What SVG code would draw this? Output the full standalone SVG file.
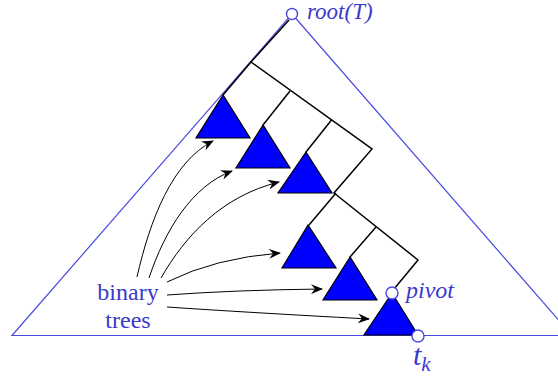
<svg xmlns="http://www.w3.org/2000/svg" width="558" height="376" viewBox="0 0 558 376">
<style>
.tri{fill:#0000ff;stroke:#000;stroke-width:1.2;stroke-linejoin:miter}
.edge{fill:none;stroke:#000;stroke-width:1.5}
.arr{fill:none;stroke:#000;stroke-width:1;marker-end:url(#ah)}
.big{fill:none;stroke:#4a4ade;stroke-width:1.2}
.node{fill:#fff;stroke:#4a4ade;stroke-width:1.4}
.lbl{font-family:"Liberation Serif",serif;fill:#3a3acc}
.it{font-style:italic}
</style>
<defs>
<marker id="ah" viewBox="0 0 12 10" refX="11" refY="5" markerWidth="12" markerHeight="10" markerUnits="userSpaceOnUse" orient="auto">
<path d="M0,0 L12,5 L0,10 L4,5 Z" fill="#000"/>
</marker>
</defs>
<g id="outer-tree">
<polygon class="big" points="12,335.5 292,14 572,335.5"/>
</g>
<g id="connectors">
<path class="edge" d="M289,20 L251,62 L372,149 L334,193 L418,260 L394,289"/>
<path class="edge" d="M251,62 L223,95"/>
<path class="edge" d="M290,91 L263,125"/>
<path class="edge" d="M331.5,120 L306,152"/>
<path class="edge" d="M336,193 L309,225"/>
<path class="edge" d="M376,227 L350,257"/>
<path class="arr" d="M137,277 C150,220 172,162 213,141"/>
<path class="arr" d="M149,278 C165,230 192,186 232,171"/>
<path class="arr" d="M161,278 C185,236 222,196 279,182"/>
<path class="arr" d="M167,282 Q215,258 280,253"/>
<path class="arr" d="M167,295 Q235,290 322,289"/>
<path class="arr" d="M167,307 Q240,312 369,319"/>
</g>
<g id="tree1"><polygon class="tri" points="223,95 196,138 250,138"/></g>
<g id="tree2"><polygon class="tri" points="263,125 236,168 290,168"/></g>
<g id="tree3"><polygon class="tri" points="306,152 278,193 332,193"/></g>
<g id="tree4"><polygon class="tri" points="308,225 282,268 336,268"/></g>
<g id="tree5"><polygon class="tri" points="350,257 323,300 377,300"/></g>
<g id="tree6"><polygon class="tri" points="392,293 364,335 418,335"/></g>
<g id="root"><circle class="node" cx="292" cy="14" r="5.5"/><text class="lbl it" x="307" y="19" font-size="23">root(T)</text></g>
<g id="pivot"><circle class="node" cx="392" cy="293" r="6"/><text class="lbl it" x="406" y="298" font-size="24">pivot</text></g>
<g id="tk"><circle class="node" cx="418" cy="336" r="6"/><text class="lbl it" x="413" y="365" font-size="30">t<tspan font-size="21" dy="6">k</tspan></text></g>
<g id="label"><text class="lbl" x="128" y="300" font-size="24" text-anchor="middle">binary</text><text class="lbl" x="128" y="328" font-size="24" text-anchor="middle">trees</text></g>
</svg>
